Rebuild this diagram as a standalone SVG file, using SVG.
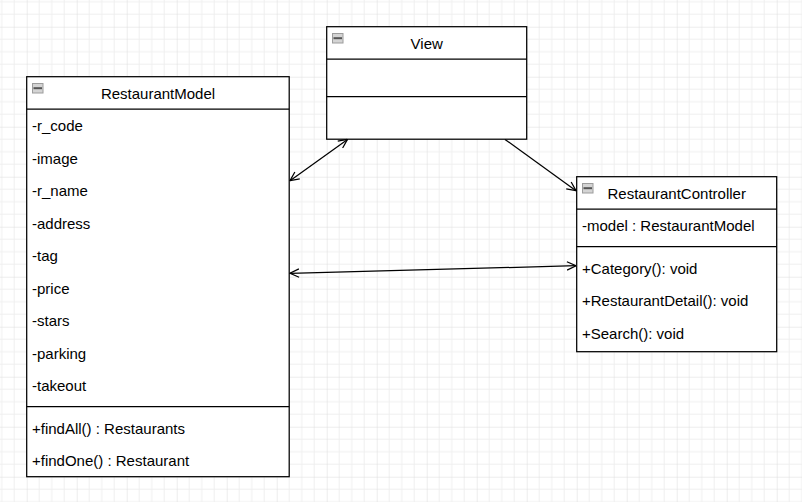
<svg xmlns="http://www.w3.org/2000/svg" width="802" height="502" viewBox="0 0 802 502">
  <defs>
    <pattern id="grid" patternUnits="userSpaceOnUse" x="26.7" y="26.7" width="50" height="50">
      <rect width="50" height="50" fill="#ffffff"/>
      <path d="M12.5 0V50M25 0V50M37.5 0V50M0 12.5H50M0 25H50M0 37.5H50" stroke="#efefef" stroke-width="1" fill="none"/>
      <path d="M0 0V50M0 0H50" stroke="#dcdcdc" stroke-width="1" fill="none"/>
    </pattern>
    <marker id="open" viewBox="0 0 10 10" markerWidth="10" markerHeight="10" refX="9.5" refY="5" orient="auto-start-reverse" markerUnits="userSpaceOnUse">
      <path d="M0.5 0.8 L9.5 5 L0.5 9.2" fill="none" stroke="#000" stroke-width="1.25"/>
    </marker>
    <g id="icon">
      <rect x="0.5" y="0.5" width="10.5" height="9.5" fill="#d4d4d4" stroke="#9c9c9c" stroke-width="1"/>
      <rect x="1.5" y="4.2" width="8.5" height="2" fill="#555555"/>
    </g>
  </defs>
  <style>
    .box { fill: #ffffff; stroke: #000000; stroke-width: 1.25; }
    .div { stroke: #000000; stroke-width: 1.25; fill: none; }
    .t { font-family: "Liberation Sans", Arial, Helvetica, sans-serif; font-size: 15px; fill: #000000; }
    .h { text-anchor: middle; }
    .edge { stroke: #000000; stroke-width: 1.25; fill: none; }
  </style>

  <rect x="0" y="0" width="802" height="502" fill="url(#grid)"/>

  <g id="RestaurantModel">
    <rect class="box" x="26.7" y="76.7" width="262.5" height="400"/>
    <line class="div" x1="26.7" y1="109.2" x2="289.2" y2="109.2"/>
    <line class="div" x1="26.7" y1="406.7" x2="289.2" y2="406.7"/>
    <use href="#icon" x="32" y="83"/>
    <text class="t h" x="158" y="99">RestaurantModel</text>
    <text class="t" x="32" y="131.2">-r_code</text>
    <text class="t" x="32" y="163.7">-image</text>
    <text class="t" x="32" y="196.2">-r_name</text>
    <text class="t" x="32" y="228.7">-address</text>
    <text class="t" x="32" y="261.2">-tag</text>
    <text class="t" x="32" y="293.7">-price</text>
    <text class="t" x="32" y="326.2">-stars</text>
    <text class="t" x="32" y="358.7">-parking</text>
    <text class="t" x="32" y="391.2">-takeout</text>
    <text class="t" x="32" y="433.7">+findAll() : Restaurants</text>
    <text class="t" x="32" y="466.2">+findOne() : Restaurant</text>
  </g>

  <g id="View">
    <rect class="box" x="326.7" y="26.7" width="200" height="112.5"/>
    <line class="div" x1="326.7" y1="59.2" x2="526.7" y2="59.2"/>
    <line class="div" x1="326.7" y1="96.7" x2="526.7" y2="96.7"/>
    <use href="#icon" x="332" y="33"/>
    <text class="t h" x="426.7" y="48.5">View</text>
  </g>

  <g id="RestaurantController">
    <rect class="box" x="576.7" y="176.7" width="200" height="175"/>
    <line class="div" x1="576.7" y1="209.2" x2="776.7" y2="209.2"/>
    <line class="div" x1="576.7" y1="246.7" x2="776.7" y2="246.7"/>
    <use href="#icon" x="582" y="183"/>
    <text class="t h" x="676.7" y="198.5">RestaurantController</text>
    <text class="t" x="582" y="231.2">-model : RestaurantModel</text>
    <text class="t" x="582" y="273.7">+Category(): void</text>
    <text class="t" x="582" y="306.2">+RestaurantDetail(): void</text>
    <text class="t" x="582" y="338.7">+Search(): void</text>
  </g>

  <g id="connectors">
    <line class="edge" x1="290" y1="180.7" x2="347.5" y2="139.4" marker-start="url(#open)" marker-end="url(#open)"/>
    <line class="edge" x1="505" y1="139.4" x2="576" y2="190.7" marker-end="url(#open)"/>
    <line class="edge" x1="290" y1="273.3" x2="576" y2="265.7" marker-start="url(#open)" marker-end="url(#open)"/>
  </g>
</svg>
